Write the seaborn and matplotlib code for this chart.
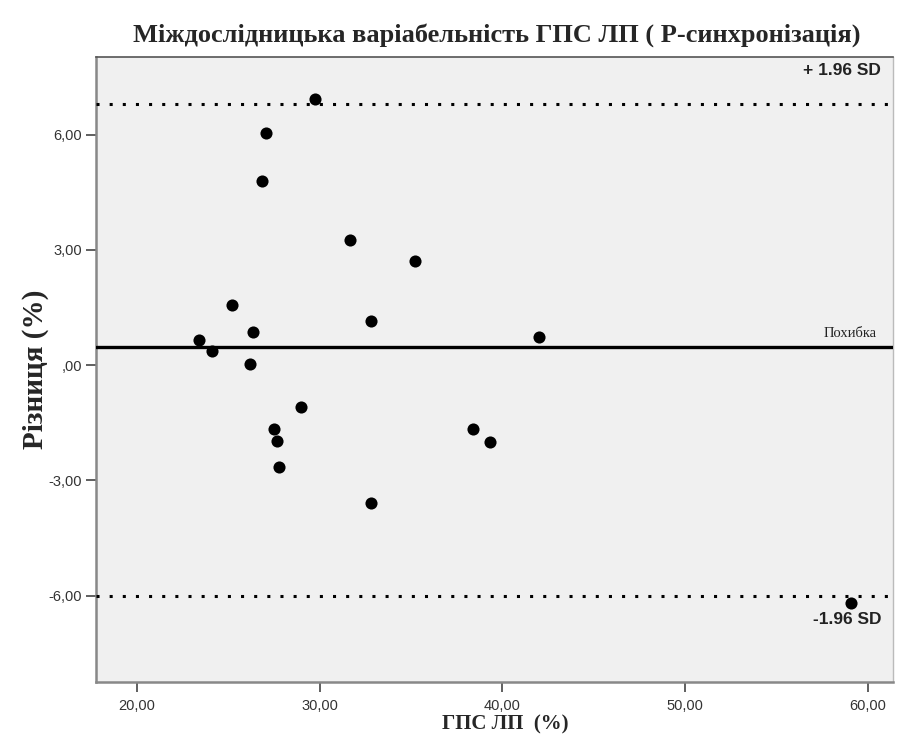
import matplotlib
matplotlib.use("Agg")
import matplotlib.pyplot as plt
from matplotlib.ticker import FuncFormatter
import seaborn as sns
import pandas as pd

# Mean of the two measurements (x) and their difference (y)
gps_mean = [29.76, 27.07, 26.86, 31.64, 35.23, 25.23, 32.80, 26.38, 23.43, 24.10,
            26.20, 42.02, 28.97, 27.53, 27.69, 27.80, 32.80, 38.42, 39.32, 59.05]
difference = [6.92, 6.05, 4.80, 3.26, 2.71, 1.55, 1.15, 0.86, 0.65, 0.37,
              0.02, 0.74, -1.09, -1.67, -1.98, -2.66, -3.58, -1.67, -2.00, -6.20]

bias = 0.47
upper_loa = 6.80
lower_loa = -6.00

x_ticks = [20, 30, 40, 50, 60]
y_ticks = [-6, -3, 0, 3, 6]

title = "Міждослідницька варіабельність ГПС ЛП ( Р-синхронізація)"
x_label = "ГПС ЛП  (%)"
y_label = "Різниця (%)"

df = pd.DataFrame({"x": gps_mean, "y": difference})

sns.set_style("white")
serif = ["Liberation Serif", "DejaVu Serif"]
sans = ["Liberation Sans", "DejaVu Sans"]

fig = plt.figure(figsize=(8.97, 7.45), dpi=100)
ax = fig.add_axes([0.107, 0.0846, 0.8885, 0.839])
ax.set_facecolor("#f0f0f0")

sns.scatterplot(data=df, x="x", y="y", ax=ax, color="black", s=76,
                edgecolor="black", linewidth=0, zorder=5)

# Bias and limits of agreement
ax.axhline(bias, color="black", lw=2.4, zorder=3)
dot = (0, (1, 3.3))
ax.axhline(upper_loa, color="black", lw=2.2, linestyle=dot, zorder=3)
ax.axhline(lower_loa, color="black", lw=2.2, linestyle=dot, zorder=3)

ax.set_xlim(17.77, 61.37)
ax.set_ylim(-8.25, 8.02)
ax.set_xticks(x_ticks)
ax.set_yticks(y_ticks)


def comma_fmt(v, pos):
    s = f"{v:.2f}".replace(".", ",")
    if s.startswith("0,"):
        s = s[1:]
    return s


ax.xaxis.set_major_formatter(FuncFormatter(comma_fmt))
ax.yaxis.set_major_formatter(FuncFormatter(comma_fmt))
ax.tick_params(axis="both", which="major", direction="out", length=7, width=1.2,
               color="#444444", labelsize=10.5, labelcolor="#333333", pad=3,
               bottom=True, left=True)
ax.tick_params(axis="x", pad=5)
for lab in ax.get_xticklabels() + ax.get_yticklabels():
    lab.set_family(sans)

for side in ["left", "bottom"]:
    ax.spines[side].set_color("#888888")
    ax.spines[side].set_linewidth(1.8)
ax.spines["top"].set_color("#555555")
ax.spines["top"].set_linewidth(1.2)
ax.spines["right"].set_color("#bbbbbb")
ax.spines["right"].set_linewidth(1.0)

ax.set_xlabel(x_label, family=serif, fontweight="bold", fontsize=15)
ax.xaxis.set_label_coords(0.514, -0.068, transform=ax.transAxes)
ax.xaxis.label.set_va("center")
ax.set_ylabel(y_label, family=serif, fontweight="bold", fontsize=21, labelpad=0)
fig.text(0.554, 0.953, title, family=serif, fontweight="bold", fontsize=19,
         ha="center", va="center")

ax.text(0.985, 0.979, "+ 1.96 SD", transform=ax.transAxes, ha="right", va="center",
        family=sans, fontsize=12.5, fontweight="bold", color="#222222")
ax.text(0.986, 0.10, "-1.96 SD", transform=ax.transAxes, ha="right", va="center",
        family=sans, fontsize=12.5, fontweight="bold", color="#222222")
ax.text(0.979, bias + 0.17, "Похибка", transform=ax.get_yaxis_transform(),
        ha="right", va="bottom", family=serif, fontsize=10.5, color="#222222")

fig.savefig("out.png", dpi=100, facecolor="white")
